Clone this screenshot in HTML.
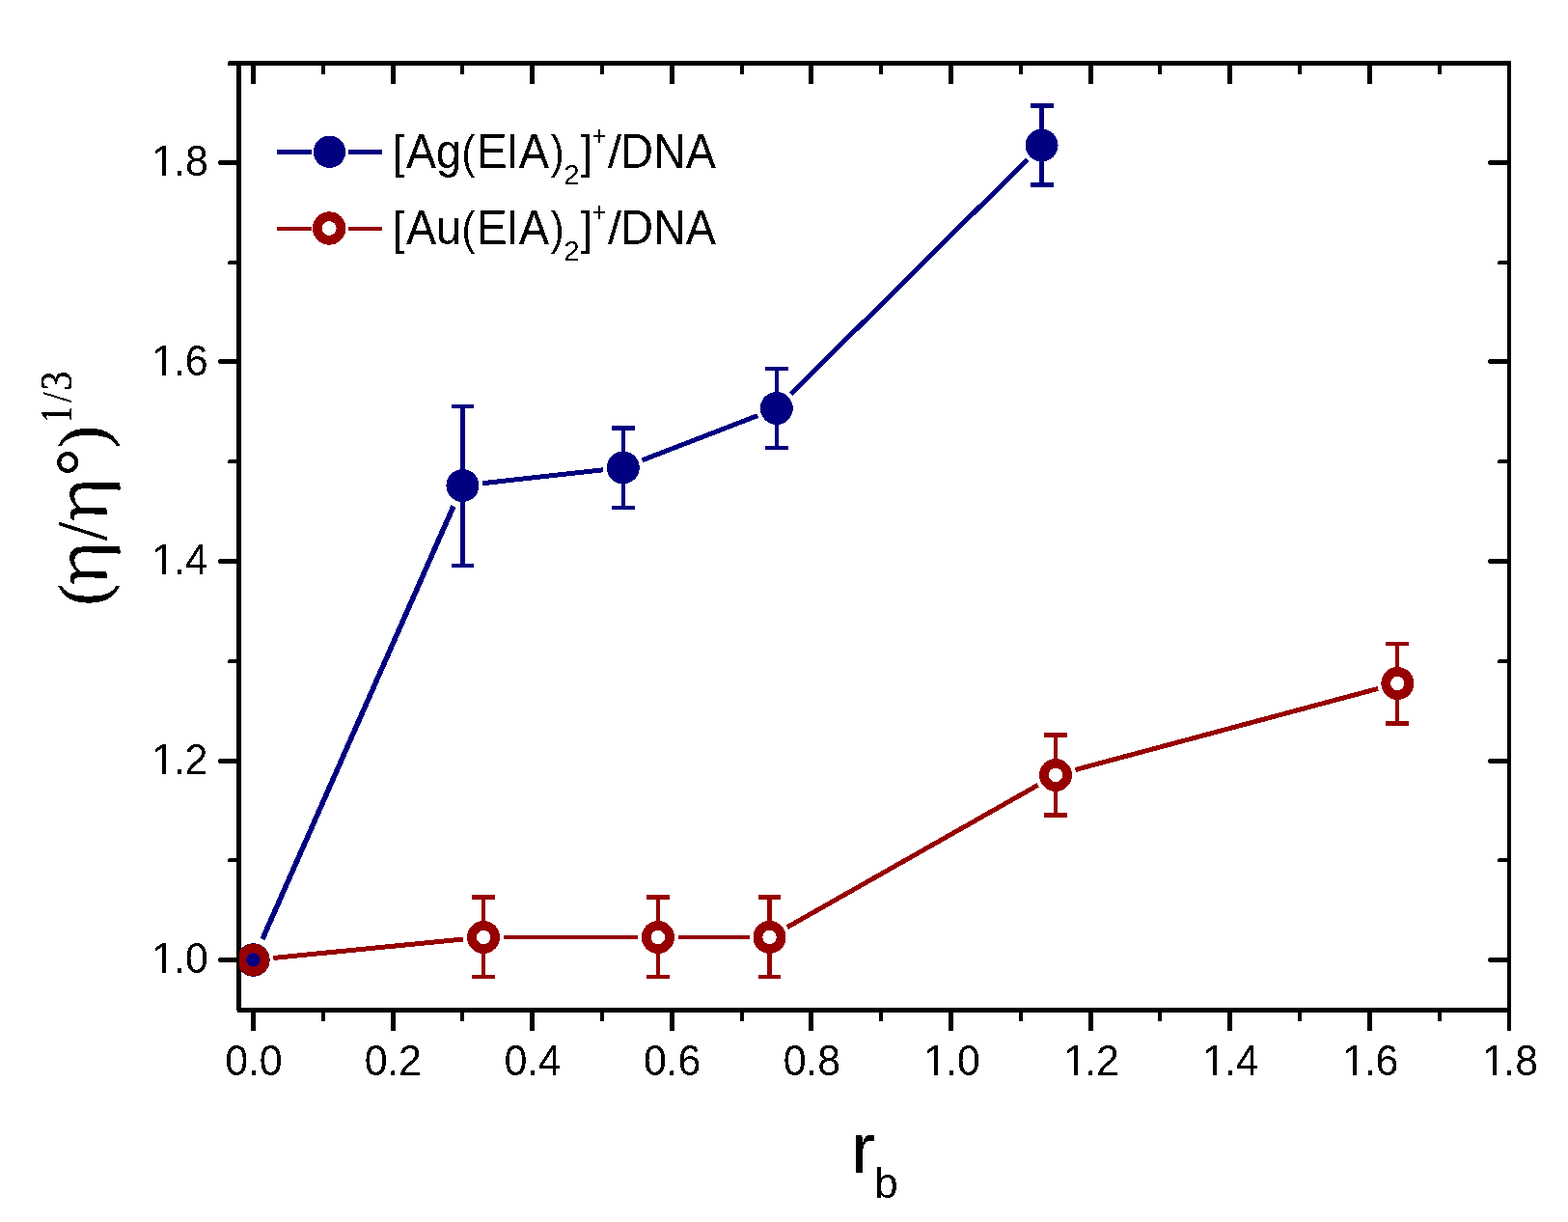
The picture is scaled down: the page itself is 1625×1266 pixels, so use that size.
<!DOCTYPE html>
<html lang="en">
<head>
<meta charset="utf-8">
<title>Relative viscosity vs binding ratio</title>
<style>
html,body{margin:0;padding:0;background:#fff;}
body{width:1625px;height:1266px;overflow:hidden;}
svg{display:block;}
text{white-space:pre;}
.sa{font-family:"Liberation Sans",Arial,Helvetica,sans-serif;}
.se{font-family:"Liberation Serif","Times New Roman",Times,serif;}
.ns{font-family:"Noto Serif CJK SC","Liberation Serif",serif;}
</style>
</head>
<body>
<svg width="1625" height="1266" viewBox="0 0 1625 1266" role="img" aria-label="Relative viscosity of DNA versus binding ratio">
<defs>
<clipPath id="plotclip"><rect x="248" y="66" width="1316" height="981"/></clipPath>
<clipPath id="one" shape-rendering="crispEdges"><rect x="-2" y="-40" width="70" height="35.94"/><rect x="10.815" y="-6" width="3.797" height="8"/><rect x="22.79" y="-40" width="50" height="50"/></clipPath>
<filter id="hard" filterUnits="userSpaceOnUse" x="0" y="0" width="1625" height="1266" color-interpolation-filters="sRGB"><feComponentTransfer><feFuncA type="discrete" tableValues="0 1"/></feComponentTransfer></filter>
</defs>
<rect width="1625" height="1266" fill="#fff"/>
<g id="axes" fill="#000" shape-rendering="crispEdges">
<rect x="260" y="63" width="5" height="24"/>
<rect x="260" y="1044" width="5" height="24"/>
<rect x="333" y="63" width="4" height="14"/>
<rect x="333" y="1044" width="4" height="14"/>
<rect x="405" y="63" width="5" height="24"/>
<rect x="405" y="1044" width="5" height="24"/>
<rect x="477" y="63" width="4" height="14"/>
<rect x="477" y="1044" width="4" height="14"/>
<rect x="549" y="63" width="5" height="24"/>
<rect x="549" y="1044" width="5" height="24"/>
<rect x="622" y="63" width="4" height="14"/>
<rect x="622" y="1044" width="4" height="14"/>
<rect x="694" y="63" width="5" height="24"/>
<rect x="694" y="1044" width="5" height="24"/>
<rect x="767" y="63" width="4" height="14"/>
<rect x="767" y="1044" width="4" height="14"/>
<rect x="838" y="63" width="5" height="24"/>
<rect x="838" y="1044" width="5" height="24"/>
<rect x="911" y="63" width="4" height="14"/>
<rect x="911" y="1044" width="4" height="14"/>
<rect x="983" y="63" width="5" height="24"/>
<rect x="983" y="1044" width="5" height="24"/>
<rect x="1056" y="63" width="4" height="14"/>
<rect x="1056" y="1044" width="4" height="14"/>
<rect x="1128" y="63" width="5" height="24"/>
<rect x="1128" y="1044" width="5" height="24"/>
<rect x="1200" y="63" width="4" height="14"/>
<rect x="1200" y="1044" width="4" height="14"/>
<rect x="1272" y="63" width="5" height="24"/>
<rect x="1272" y="1044" width="5" height="24"/>
<rect x="1345" y="63" width="4" height="14"/>
<rect x="1345" y="1044" width="4" height="14"/>
<rect x="1417" y="63" width="5" height="24"/>
<rect x="1417" y="1044" width="5" height="24"/>
<rect x="1490" y="63" width="4" height="14"/>
<rect x="1490" y="1044" width="4" height="14"/>
<rect x="226" y="992" width="23" height="5" rx="2.5"/>
<rect x="1542" y="992" width="23" height="5" rx="2.5"/>
<rect x="236" y="889" width="13" height="4" rx="2"/>
<rect x="1552" y="889" width="13" height="4" rx="2"/>
<rect x="226" y="786" width="23" height="5" rx="2.5"/>
<rect x="1542" y="786" width="23" height="5" rx="2.5"/>
<rect x="236" y="683" width="13" height="4" rx="2"/>
<rect x="1552" y="683" width="13" height="4" rx="2"/>
<rect x="226" y="579" width="23" height="5" rx="2.5"/>
<rect x="1542" y="579" width="23" height="5" rx="2.5"/>
<rect x="236" y="476" width="13" height="4" rx="2"/>
<rect x="1552" y="476" width="13" height="4" rx="2"/>
<rect x="226" y="372" width="23" height="5" rx="2.5"/>
<rect x="1542" y="372" width="23" height="5" rx="2.5"/>
<rect x="236" y="270" width="13" height="4" rx="2"/>
<rect x="1552" y="270" width="13" height="4" rx="2"/>
<rect x="226" y="166" width="23" height="5" rx="2.5"/>
<rect x="1542" y="166" width="23" height="5" rx="2.5"/>
<rect x="236" y="63" width="13" height="5" rx="2"/>
<rect x="1552" y="63" width="13" height="5" rx="2"/>
<rect x="245" y="63" width="1321" height="5"/>
<rect x="246" y="1044" width="1320" height="5"/>
<rect x="245" y="63" width="5" height="984"/>
<rect x="1562" y="63" width="4" height="1005"/>
</g>
<g id="data" clip-path="url(#plotclip)" shape-rendering="crispEdges">
<g id="series-ag">
<line x1="271.99" y1="973" x2="469.93" y2="524.53" stroke="#000080" stroke-width="5.5"/>
<line x1="500.29" y1="500.7" x2="624.85" y2="486.78" stroke="#000080" stroke-width="5"/>
<line x1="665.31" y1="476.88" x2="785.2" y2="430.58" stroke="#000080" stroke-width="5"/>
<line x1="819.7" y1="408.22" x2="1064.64" y2="165.32" stroke="#000080" stroke-width="5"/>
<rect x="477" y="419" width="5" height="169" fill="#000080"/>
<rect x="468" y="419" width="23" height="4" rx="1" fill="#000080"/>
<rect x="468" y="584" width="23" height="4" rx="1" fill="#000080"/>
<rect x="644" y="441" width="4" height="87" fill="#000080"/>
<rect x="634" y="441" width="24" height="5" rx="1" fill="#000080"/>
<rect x="634" y="524" width="24" height="4" rx="1" fill="#000080"/>
<rect x="803" y="380" width="4" height="86" fill="#000080"/>
<rect x="793" y="380" width="24" height="4" rx="1" fill="#000080"/>
<rect x="793" y="462" width="24" height="4" rx="1" fill="#000080"/>
<rect x="1077" y="107" width="5" height="87" fill="#000080"/>
<rect x="1068" y="107" width="24" height="5" rx="1" fill="#000080"/>
<rect x="1068" y="189" width="24" height="5" rx="1" fill="#000080"/>
<circle cx="262.5" cy="994.5" r="17.15" fill="#000080"/>
<circle cx="479.42" cy="503.03" r="17" fill="#000080"/>
<circle cx="645.72" cy="484.44" r="17" fill="#000080"/>
<circle cx="804.79" cy="423.01" r="17" fill="#000080"/>
<circle cx="1079.55" cy="150.53" r="17" fill="#000080"/>
<rect x="260" y="977" width="5" height="35" fill="#000080"/>
</g>
<g id="series-au">
<line x1="283.4" y1="992.44" x2="480.21" y2="973.02" stroke="#960000" stroke-width="5"/>
<line x1="522.11" y1="970.96" x2="660.87" y2="970.96" stroke="#960000" stroke-width="4.3"/>
<line x1="702.87" y1="970.96" x2="776.56" y2="970.96" stroke="#960000" stroke-width="4.3"/>
<line x1="815.83" y1="960.61" x2="1075.74" y2="813.32" stroke="#960000" stroke-width="5"/>
<line x1="1114.3" y1="797.53" x2="1428.03" y2="713.42" stroke="#960000" stroke-width="5"/>
<rect x="499" y="927" width="4" height="87" fill="#960000"/>
<rect x="489" y="927" width="24" height="5" rx="1" fill="#960000"/>
<rect x="489" y="1010" width="24" height="4" rx="1" fill="#960000"/>
<rect x="680" y="927" width="4" height="87" fill="#960000"/>
<rect x="670" y="927" width="24" height="5" rx="1" fill="#960000"/>
<rect x="670" y="1010" width="24" height="4" rx="1" fill="#960000"/>
<rect x="795" y="927" width="5" height="87" fill="#960000"/>
<rect x="786" y="927" width="23" height="5" rx="1" fill="#960000"/>
<rect x="786" y="1010" width="23" height="4" rx="1" fill="#960000"/>
<rect x="1092" y="759" width="4" height="88" fill="#960000"/>
<rect x="1082" y="759" width="24" height="5" rx="1" fill="#960000"/>
<rect x="1082" y="842" width="24" height="5" rx="1" fill="#960000"/>
<rect x="1446" y="665" width="4" height="87" fill="#960000"/>
<rect x="1436" y="665" width="24" height="4" rx="1" fill="#960000"/>
<rect x="1436" y="747" width="24" height="5" rx="1" fill="#960000"/>
<circle cx="262.5" cy="994.5" r="12.1" fill="none" stroke="#960000" stroke-width="9.8"/>
<circle cx="501.11" cy="970.96" r="12.1" fill="#fff" stroke="#960000" stroke-width="9.8"/>
<circle cx="681.87" cy="970.96" r="12.1" fill="#fff" stroke="#960000" stroke-width="9.8"/>
<circle cx="797.56" cy="970.96" r="12.1" fill="#fff" stroke="#960000" stroke-width="9.8"/>
<circle cx="1094.01" cy="802.97" r="12.1" fill="#fff" stroke="#960000" stroke-width="9.8"/>
<circle cx="1448.31" cy="707.98" r="12.1" fill="#fff" stroke="#960000" stroke-width="9.8"/>
</g>
</g>
<g id="legend">
<g shape-rendering="crispEdges">
<rect x="287" y="155" width="36" height="5" fill="#000080"/>
<rect x="361" y="155" width="35" height="5" fill="#000080"/>
<circle cx="341.5" cy="157.3" r="16.7" fill="#000080"/>
</g>
<g shape-rendering="crispEdges">
<rect x="287" y="235" width="36" height="4" fill="#960000"/>
<rect x="361" y="235" width="35" height="4" fill="#960000"/>
<circle cx="341.2" cy="236.5" r="12.3" fill="#fff" stroke="#960000" stroke-width="9.8"/>
</g>
</g>
<g id="labels" fill="#000" filter="url(#hard)">
<g id="xticklabels">
<text class="sa" transform="translate(233.241 1113.6)" x="0 23.55 35.6" y="0" font-size="45" textLength="59.78" lengthAdjust="spacingAndGlyphs">0.0</text>
<text class="sa" transform="translate(377.852 1113.6)" x="0 23.55 35.09" y="0" font-size="45" textLength="59.78" lengthAdjust="spacingAndGlyphs">0.2</text>
<text class="sa" transform="translate(522.464 1113.6)" x="0 23.55 35.35" y="0" font-size="45" textLength="59.78" lengthAdjust="spacingAndGlyphs">0.4</text>
<text class="sa" transform="translate(667.075 1113.6)" x="0 23.55 35.32" y="0" font-size="45" textLength="59.78" lengthAdjust="spacingAndGlyphs">0.6</text>
<text class="sa" transform="translate(811.686 1113.6)" x="0 23.55 35.51" y="0" font-size="45" textLength="59.78" lengthAdjust="spacingAndGlyphs">0.8</text>
<text class="sa" transform="translate(957.206 1113.6)" x="0 22.64 34.69" y="0" font-size="45" textLength="59.78" lengthAdjust="spacingAndGlyphs" clip-path="url(#one)">1.0</text>
<text class="sa" transform="translate(1102.206 1113.6)" x="0 22.26 33.79" y="0" font-size="45" textLength="59.78" lengthAdjust="spacingAndGlyphs" clip-path="url(#one)">1.2</text>
<text class="sa" transform="translate(1246.206 1113.6)" x="0 22.87 34.67" y="0" font-size="45" textLength="59.78" lengthAdjust="spacingAndGlyphs" clip-path="url(#one)">1.4</text>
<text class="sa" transform="translate(1391.206 1113.6)" x="0 22.48 34.24" y="0" font-size="45" textLength="59.78" lengthAdjust="spacingAndGlyphs" clip-path="url(#one)">1.6</text>
<text class="sa" transform="translate(1536.206 1113.6)" x="0 22.09 34.04" y="0" font-size="45" textLength="59.78" lengthAdjust="spacingAndGlyphs" clip-path="url(#one)">1.8</text>
</g>
<g id="yticklabels">
<text class="sa" transform="translate(157.206 1008)" x="0 22.79 34.84" y="0" font-size="45" textLength="59.78" lengthAdjust="spacingAndGlyphs" clip-path="url(#one)">1.0</text>
<text class="sa" transform="translate(157.206 801.5)" x="0 22.79 34.32" y="0" font-size="45" textLength="59.78" lengthAdjust="spacingAndGlyphs" clip-path="url(#one)">1.2</text>
<text class="sa" transform="translate(157.206 595)" x="0 22.79 34.59" y="0" font-size="45" textLength="59.78" lengthAdjust="spacingAndGlyphs" clip-path="url(#one)">1.4</text>
<text class="sa" transform="translate(157.206 388.5)" x="0 22.79 34.55" y="0" font-size="45" textLength="59.78" lengthAdjust="spacingAndGlyphs" clip-path="url(#one)">1.6</text>
<text class="sa" transform="translate(157.206 182)" x="0 22.79 34.74" y="0" font-size="45" textLength="59.78" lengthAdjust="spacingAndGlyphs" clip-path="url(#one)">1.8</text>
</g>
<g id="legend-labels">
<text><tspan class="sa" x="406.77" y="173.98" font-size="48.28" textLength="12.58" lengthAdjust="spacingAndGlyphs">[</tspan><tspan class="sa" x="420.91" y="174" font-size="50.87" textLength="57.1" lengthAdjust="spacingAndGlyphs">Ag</tspan><tspan class="sa" x="478.43" y="174" font-size="48.3" textLength="13.82" lengthAdjust="spacingAndGlyphs">(</tspan><tspan class="sa" x="494.14 524.46 537.81" y="174" font-size="50.58" textLength="75.84" lengthAdjust="spacingAndGlyphs">EIA</tspan><tspan class="sa" x="570.76" y="174" font-size="48.3" textLength="13.82" lengthAdjust="spacingAndGlyphs">)</tspan><tspan class="sa" x="584.32" y="191" font-size="30.08" textLength="16.36" lengthAdjust="spacingAndGlyphs">2</tspan><tspan class="sa" x="601.54" y="173.98" font-size="48.28" textLength="12.72" lengthAdjust="spacingAndGlyphs">]</tspan><tspan class="sa" x="613.77" y="150.51" font-size="28.61" textLength="14.66" lengthAdjust="spacingAndGlyphs">+</tspan><tspan class="sa" x="629.9" y="173.83" font-size="48.07" textLength="14.1" lengthAdjust="spacingAndGlyphs">/</tspan><tspan class="sa" x="643.16" y="174" font-size="50.87" textLength="98.94" lengthAdjust="spacingAndGlyphs">DNA</tspan></text>
<text><tspan class="sa" x="406.77" y="252.98" font-size="48.28" textLength="12.58" lengthAdjust="spacingAndGlyphs">[</tspan><tspan class="sa" x="420.91" y="253" font-size="50.87" textLength="57.2" lengthAdjust="spacingAndGlyphs">Au</tspan><tspan class="sa" x="478.43" y="253" font-size="48.3" textLength="13.82" lengthAdjust="spacingAndGlyphs">(</tspan><tspan class="sa" x="494.14 524.46 537.81" y="253" font-size="50.58" textLength="75.84" lengthAdjust="spacingAndGlyphs">EIA</tspan><tspan class="sa" x="570.76" y="253" font-size="48.3" textLength="13.82" lengthAdjust="spacingAndGlyphs">)</tspan><tspan class="sa" x="584.32" y="270" font-size="30.08" textLength="16.36" lengthAdjust="spacingAndGlyphs">2</tspan><tspan class="sa" x="601.54" y="252.98" font-size="48.28" textLength="12.72" lengthAdjust="spacingAndGlyphs">]</tspan><tspan class="sa" x="613.77" y="229.51" font-size="28.61" textLength="14.66" lengthAdjust="spacingAndGlyphs">+</tspan><tspan class="sa" x="629.9" y="252.83" font-size="48.07" textLength="14.1" lengthAdjust="spacingAndGlyphs">/</tspan><tspan class="sa" x="643.16" y="253" font-size="50.87" textLength="98.94" lengthAdjust="spacingAndGlyphs">DNA</tspan></text>
</g>
<g id="xtitle">
<text><tspan class="sa" x="881.92" y="1215" font-size="74.34" textLength="25.48" lengthAdjust="spacingAndGlyphs">r</tspan><tspan class="sa" x="906.13" y="1240.57" font-size="43.57" textLength="24.73" lengthAdjust="spacingAndGlyphs">b</tspan></text>
</g>
<text id="ytitle" transform="translate(110 625) rotate(-90)"><tspan class="se" x="-2.26" y="-1.19" font-size="69.92" textLength="22.43" lengthAdjust="spacingAndGlyphs" stroke="#000" stroke-width="0.6" stroke-linejoin="round">(</tspan><tspan class="ns" x="17.87" y="0" font-size="71" textLength="46.94" lengthAdjust="spacingAndGlyphs" stroke="#000" stroke-width="0.6" stroke-linejoin="round">η</tspan><tspan class="se" x="65.2" y="0.08" font-size="74.15" textLength="19" lengthAdjust="spacingAndGlyphs" stroke="#000" stroke-width="0.4" stroke-linejoin="round">/</tspan><tspan class="ns" x="83.87" y="0" font-size="71" textLength="46.94" lengthAdjust="spacingAndGlyphs" stroke="#000" stroke-width="0.6" stroke-linejoin="round">η</tspan><tspan class="se" x="131.92" y="-3.76" font-size="70.58" textLength="28.22" lengthAdjust="spacingAndGlyphs" stroke="#000" stroke-width="0.6" stroke-linejoin="round">°</tspan><tspan class="se" x="161.08" y="-1.19" font-size="69.92" textLength="22.95" lengthAdjust="spacingAndGlyphs" stroke="#000" stroke-width="0.6" stroke-linejoin="round">)</tspan><tspan class="se" x="187.23" y="-35.85" font-size="45.44" textLength="16.62" lengthAdjust="spacingAndGlyphs" stroke="#000" stroke-width="0.3" stroke-linejoin="round">1</tspan><tspan class="se" x="208.1" y="-35.54" font-size="44.55" textLength="10.8" lengthAdjust="spacingAndGlyphs" stroke="#000" stroke-width="0.2" stroke-linejoin="round">/</tspan><tspan class="se" x="220.22" y="-35.6" font-size="46.44" textLength="20.21" lengthAdjust="spacingAndGlyphs" stroke="#000" stroke-width="0.3" stroke-linejoin="round">3</tspan></text>
</g>
</svg>
</body>
</html>
